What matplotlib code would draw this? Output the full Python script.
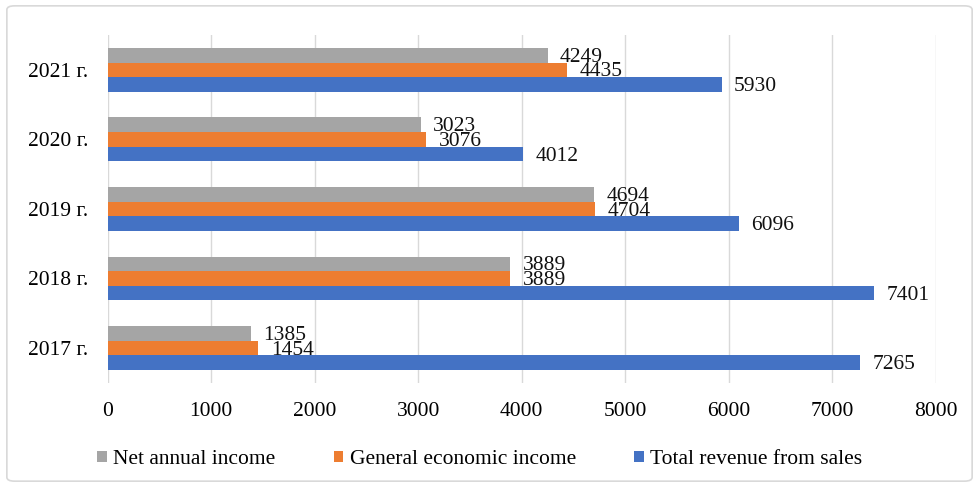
import matplotlib
matplotlib.use("Agg")
import matplotlib.pyplot as plt
from matplotlib.patches import FancyBboxPatch
import numpy as np

# ---------------- DATA ----------------
years = ["2017 г.", "2018 г.", "2019 г.", "2020 г.", "2021 г."]
net_income = [1385, 3889, 4694, 3023, 4249]
general_income = [1454, 3889, 4704, 3076, 4435]
total_revenue = [7265, 7401, 6096, 4012, 5930]
x_ticks = [0, 1000, 2000, 3000, 4000, 5000, 6000, 7000, 8000]

# ---------------- STYLE ----------------
plt.rcParams["font.family"] = ["Liberation Serif", "DejaVu Serif"]
gray, orange, blue = "#A5A5A5", "#ED7D31", "#4472C4"
fs = 15.5

fig = plt.figure(figsize=(9.79, 4.87), dpi=100)
ax = fig.add_axes([0.110, 0.214, 0.846, 0.714])

# figure border
border = FancyBboxPatch((0.007, 0.012), 0.986, 0.976, boxstyle="round,pad=0,rounding_size=0.008",
                        transform=fig.transFigure, facecolor="none", edgecolor="#D9D9D9",
                        linewidth=1.2)
fig.patches.append(border)

y = np.arange(len(years))
h = 0.21

series = [
    (net_income, gray, "Net annual income", h),
    (general_income, orange, "General economic income", 0),
    (total_revenue, blue, "Total revenue from sales", -h),
]

for vals, color, label, off in series:
    bars = ax.barh(y + off, vals, height=h, color=color, label=label, zorder=3)
    for b, v in zip(bars, vals):
        ax.annotate(str(v), (v, b.get_y() + b.get_height() / 2),
                    xytext=(9, -1.5), textcoords="offset points",
                    ha="left", va="center", fontsize=fs, color="#111111", zorder=4)

ax.set_xlim(0, 8000)
ax.set_ylim(-0.5, 4.5)
ax.set_xticks(x_ticks)
ax.set_xticklabels([str(t) for t in x_ticks], fontsize=fs)
ax.set_yticks(y)
ax.set_yticklabels(years, fontsize=fs)
ax.tick_params(axis="x", length=0, pad=14)
ax.tick_params(axis="y", length=0, pad=14)
ax.grid(axis="x", color="#D9D9D9", linewidth=1, zorder=0)
for s in ax.spines.values():
    s.set_visible(False)

handles, labels = ax.get_legend_handles_labels()
fig.legend(handles, labels, loc="center", bbox_to_anchor=(0.49, 0.056), ncol=3,
           frameon=False, fontsize=fs, handlelength=0.45, handleheight=0.45,
           handletextpad=0.3, columnspacing=2.7)

fig.savefig("out.png", dpi=100)
